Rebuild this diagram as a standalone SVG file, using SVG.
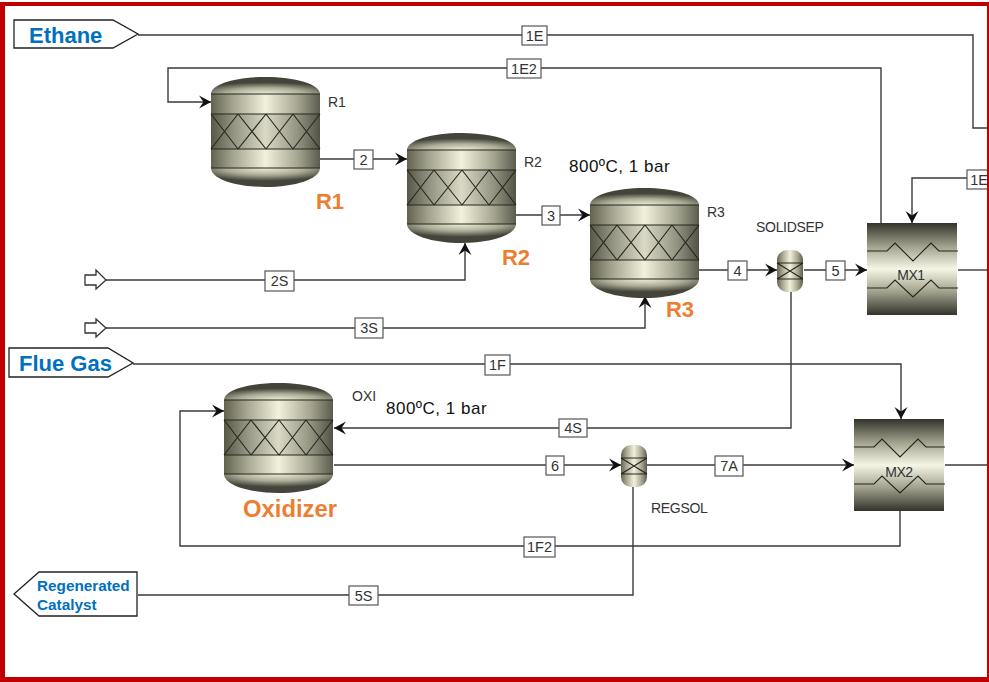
<svg xmlns="http://www.w3.org/2000/svg" width="989" height="682" viewBox="0 0 989 682">
<defs>
<linearGradient id="metalH" x1="0" y1="0" x2="1" y2="0">
<stop offset="0" stop-color="#62624f"/><stop offset="0.2" stop-color="#a3a38f"/><stop offset="0.5" stop-color="#f2f2dc"/><stop offset="0.8" stop-color="#a3a38f"/><stop offset="1" stop-color="#5c5c4e"/>
</linearGradient>
<linearGradient id="metalHex" x1="0" y1="0" x2="0" y2="1">
<stop offset="0" stop-color="#33332c"/><stop offset="0.25" stop-color="#a0a08c"/><stop offset="0.5" stop-color="#f6f6e6"/><stop offset="0.75" stop-color="#a0a08c"/><stop offset="1" stop-color="#33332c"/>
</linearGradient>
<radialGradient id="capTop" cx="0.5" cy="1" r="0.68">
<stop offset="0" stop-color="#f0f0da"/><stop offset="0.55" stop-color="#aaaa96"/><stop offset="1" stop-color="#44443a"/>
</radialGradient>
<radialGradient id="capBot" cx="0.5" cy="0" r="0.68">
<stop offset="0" stop-color="#f0f0da"/><stop offset="0.55" stop-color="#aaaa96"/><stop offset="1" stop-color="#44443a"/>
</radialGradient>
<marker id="arr" viewBox="0 0 14 14" refX="13" refY="7" markerWidth="14" markerHeight="14" markerUnits="userSpaceOnUse" orient="auto">
<path d="M1,0.5 L13,7 L1,13.5 L5.500,7 Z" fill="#111"/>
</marker>
<g id="reactor">
<path d="M0,17 C0,7 25,0 54.500,0 C84,0 109,7 109,17 Z" fill="url(#capTop)"/>
<path d="M0,91 C0,102 25,110 54.500,110 C84,110 109,102 109,91 Z" fill="url(#capBot)"/>
<rect x="0" y="17" width="109" height="74" fill="url(#metalH)"/>
<rect x="0" y="37" width="109" height="35" fill="#000" fill-opacity="0.1"/>
<path d="M0,17H109M0,37H109M0,72H109M0,91H109" class="eq"/>
<path d="M0,37L27,72M27,37L0,72M27,37L55,72M55,37L27,72M55,37L82,72M82,37L55,72M82,37L109,72M109,37L82,72" class="eq"/>
</g>
<g id="sep">
<rect x="0" y="0" width="26" height="42" rx="10" ry="10" fill="url(#metalH)"/>
<path d="M0,13H26M0,29H26M0,13L26,29M26,13L0,29" class="eq"/>
</g>
<g id="hex">
<rect x="0" y="0" width="90" height="92" fill="url(#metalHex)"/>
<path d="M0,28H20L28,20L46,38L64,20L72,28H91M0,65H20L28,57L46,74L64,57L72,65H91" class="eq"/>
</g>
</defs>
<style>
.eq{fill:none;stroke:#26261e;stroke-width:1.1}
.ln{fill:none;stroke:#3a3a3a;stroke-width:1.4}
.ar{marker-end:url(#arr)}
.box{fill:#fff;stroke:#555;stroke-width:1.2}
.bt{font:14.5px "Liberation Sans",Arial,sans-serif;fill:#333;text-anchor:middle}
.lb{font:14px "Liberation Sans",Arial,sans-serif;fill:#333}
.mx{font:14px "Liberation Sans",Arial,sans-serif;fill:#333;text-anchor:middle}
.or{font:bold 22px "Liberation Sans",Arial,sans-serif;fill:#ed7d31;text-anchor:middle}
.bl{font:bold 22px "Liberation Sans",Arial,sans-serif;fill:#0070c0}
.bs{font:bold 15.3px "Liberation Sans",Arial,sans-serif;fill:#0070c0}
.tag{fill:#fff;stroke:#222;stroke-width:1.3}
.cond{font:17px "Liberation Sans",Arial,sans-serif;fill:#111;letter-spacing:.5px}
</style>
<rect x="0" y="0" width="989" height="682" fill="#fff"/>
<g id="connectors">
<path class="ln" d="M138,35H973V128H987"/>
<path class="ln ar" d="M881,223V68H168V102H211"/>
<path class="ln ar" d="M320,159H407"/>
<path class="ln ar" d="M516,215H590"/>
<path class="ln ar" d="M699,270H777"/>
<path class="ln ar" d="M804,270H867"/>
<path class="ln" d="M958,270H987"/>
<path class="ln ar" d="M987,178H912V223"/>
<path class="ln ar" d="M105,280H465V243"/>
<path class="ln ar" d="M105,328H645V296"/>
<path class="ln ar" d="M133,364H901V419"/>
<path class="ln ar" d="M791,292V428H334"/>
<path class="ln ar" d="M334,465H621"/>
<path class="ln ar" d="M646,465H854"/>
<path class="ln" d="M945,465H987"/>
<path class="ln ar" d="M900,510V546H180V411H224"/>
<path class="ln" d="M633,486V595H138"/>
<g id="stream-labels">
<rect class="box" x="522" y="26" width="25" height="19"/><text class="bt" x="534.500" y="41">1E</text>
<rect class="box" x="507" y="59" width="34" height="19"/><text class="bt" x="524" y="74">1E2</text>
<rect class="box" x="354" y="150" width="19" height="19"/><text class="bt" x="363.500" y="165">2</text>
<rect class="box" x="542" y="206" width="18" height="19"/><text class="bt" x="551" y="221">3</text>
<rect class="box" x="728" y="261" width="19" height="19"/><text class="bt" x="737.500" y="276">4</text>
<rect class="box" x="826" y="261" width="19" height="19"/><text class="bt" x="835.500" y="276">5</text>
<rect class="box" x="967" y="170" width="24" height="19"/><text class="bt" x="979" y="185">1E</text>
<rect class="box" x="265" y="271" width="29" height="20"/><text class="bt" x="279.500" y="286">2S</text>
<rect class="box" x="355" y="318" width="28" height="20"/><text class="bt" x="369" y="333">3S</text>
<rect class="box" x="485" y="355" width="25" height="20"/><text class="bt" x="497.500" y="370">1F</text>
<rect class="box" x="559" y="419" width="28" height="18"/><text class="bt" x="573" y="433">4S</text>
<rect class="box" x="546" y="456" width="18" height="19"/><text class="bt" x="555" y="471">6</text>
<rect class="box" x="715" y="456" width="28" height="20"/><text class="bt" x="729" y="471">7A</text>
<rect class="box" x="524" y="537" width="31" height="20"/><text class="bt" x="539.500" y="552">1F2</text>
<rect class="box" x="349" y="586" width="29" height="19"/><text class="bt" x="363.500" y="601">5S</text>
</g>
</g>
<g id="feed-2S"><path d="M85,275H96V270L106,280L96,289V285H85Z" fill="#fff" stroke="#333" stroke-width="1.3"/></g>
<g id="feed-3S"><path d="M85,323H96V319L106,328L96,337V333H85Z" fill="#fff" stroke="#333" stroke-width="1.3"/></g>
<g id="node-R1"><use href="#reactor" x="211" y="77"/><text class="lb" x="328" y="107">R1</text><text class="or" x="330" y="209">R1</text></g>
<g id="node-R2"><use href="#reactor" x="407" y="133"/><text class="lb" x="524" y="167">R2</text><text class="or" x="516" y="265">R2</text></g>
<g id="node-R3"><use href="#reactor" x="590" y="188"/><text class="lb" x="707" y="217">R3</text><text class="or" x="680" y="317">R3</text><text class="cond" x="569" y="172">800ºC, 1 bar</text></g>
<g id="node-OXI"><use href="#reactor" x="224" y="383"/><text class="lb" x="352" y="401">OXI</text><text class="or" x="290" y="517" style="font-size:23.8px">Oxidizer</text><text class="cond" x="386" y="414">800ºC, 1 bar</text></g>
<g id="node-SOLIDSEP"><use href="#sep" x="777" y="250"/><text class="lb" x="756" y="232" letter-spacing="-0.300">SOLIDSEP</text></g>
<g id="node-REGSOL"><use href="#sep" x="621" y="445"/><text class="lb" x="651" y="513" letter-spacing="-0.300">REGSOL</text></g>
<g id="node-MX1"><use href="#hex" x="867" y="223"/><text class="mx" x="911" y="280" letter-spacing="-0.500">MX1</text></g>
<g id="node-MX2"><use href="#hex" x="854" y="419"/><text class="mx" x="899" y="477" letter-spacing="-0.500">MX2</text></g>
<g id="tag-ethane"><path class="tag" d="M14,20H113L138,34L113,48H14Z"/><text class="bl" x="29" y="43">Ethane</text></g>
<g id="tag-fluegas"><path class="tag" d="M9,348H108L133,363L108,377H9Z"/><text class="bl" x="19" y="371">Flue Gas</text></g>
<g id="tag-regen"><path class="tag" d="M14,594L39,572H137V616H39Z"/><text class="bs" x="37" y="591">Regenerated</text><text class="bs" x="37" y="610">Catalyst</text></g>
<g id="frame"><path d="M0,2H989V682H0Z M5,6V677H987V6Z" fill="#c00000" fill-rule="evenodd"/></g>
</svg>
